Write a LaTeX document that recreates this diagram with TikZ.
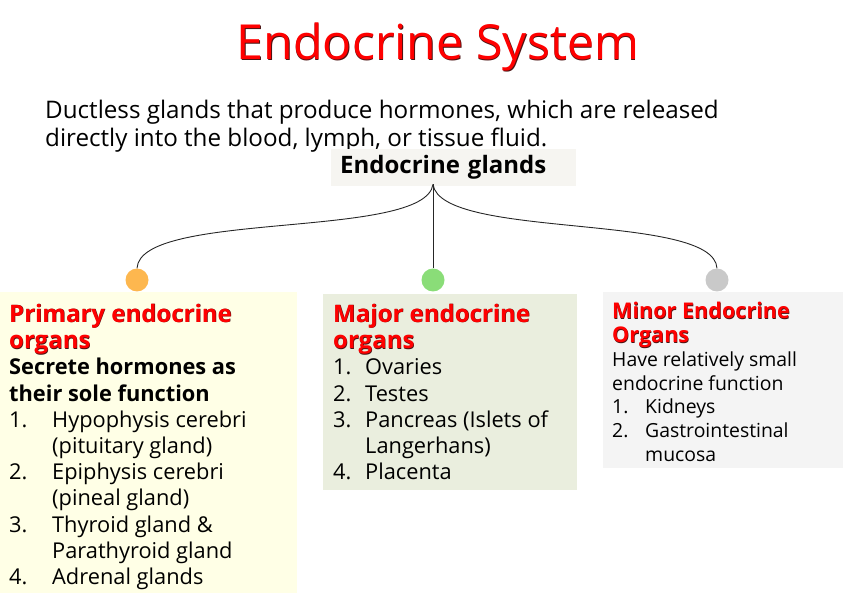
\documentclass[tikz,border=0pt]{standalone}
\usepackage{fontspec}
\setmainfont{Open Sans}
\usetikzlibrary{calc,positioning}
\definecolor{headred}{HTML}{FF0000}
\definecolor{shade}{HTML}{4A1414}
\definecolor{yellowpanel}{HTML}{FFFFE6}
\definecolor{greenpanel}{HTML}{EAEEDE}
\definecolor{greypanel}{HTML}{F4F4F4}
\definecolor{labelpanel}{HTML}{F6F5F1}
\definecolor{orangedot}{HTML}{FDB74F}
\definecolor{greendot}{HTML}{8ADD78}
\definecolor{greydot}{HTML}{C9C9C9}
\newcommand{\redhead}[1]{\leavevmode\rlap{\kern0.5pt\raisebox{-0.5pt}{\textcolor{shade}{#1}}}\textcolor{headred}{#1}}
\newcommand{\itm}[2][43pt]{\makebox[#1][l]{#2}}
\newcommand{\bighead}[1]{{\fontsize{24}{26.2}\selectfont\bfseries\redhead{#1}}}
\tikzset{
  panel/.style={rectangle,fill=#1,draw=none,anchor=north west,inner sep=0pt},
  joint/.style={circle,fill=#1,draw=none,minimum size=23pt,inner sep=0pt},
  branch/.style={draw=black!85,line width=0.9pt},
  bodytext/.style={anchor=north west,inner sep=0pt,align=left,font=\fontsize{21.8}{26.2}\selectfont},
  smalltext/.style={anchor=north west,inner sep=0pt,align=left,font=\fontsize{19.4}{23.7}\selectfont}
}
\begin{document}
\begin{tikzpicture}[x=1pt,y=-1pt]
\useasboundingbox (0,0) rectangle (843,593);
% title and definition
\node[anchor=base,inner sep=0pt,font=\fontsize{48.3}{58}\selectfont] (title) at (438,60) {\redhead{Endocrine System}};
\node[anchor=north west,inner sep=0pt,align=left,font=\fontsize{24.2}{28}\selectfont] (definition) at (45,99.5)
  {Ductless glands that produce hormones, which are released\\directly into the blood, lymph, or tissue fluid.};
% root label
\node[panel=labelpanel,minimum width=245pt,minimum height=37pt,text width=227pt,inner xsep=9pt,align=left,
  font=\fontsize{24}{26}\selectfont\bfseries] (glands) at (331,149) {Endocrine glands};
\coordinate (fork) at ([xshift=102pt,yshift=2pt]glands.south west);
% panels
\node[panel=yellowpanel,minimum width=297pt,minimum height=305pt] (primary) at (0,292) {};
\node[panel=greenpanel,minimum width=254pt,minimum height=196pt] (major) at (323,294) {};
\node[panel=greypanel,minimum width=240pt,minimum height=176pt] (minor) at (603,292) {};
% joints
\node[joint=orangedot] (primarydot) at (137,280) {};
\node[joint=greendot] (majordot) at (433,280) {};
\node[joint=greydot] (minordot) at (717,280) {};
\draw[branch] (fork) .. controls (425,240) and (140,210) .. (primarydot.north);
\draw[branch] (fork) -- (majordot.north);
\draw[branch] (fork) .. controls (441,240) and (714,212) .. (minordot.north);
% panel texts
\node[bodytext] (primarytxt) at (9,304)
  {\bighead{Primary endocrine}\\
   \bighead{organs}\\
   \textbf{Secrete hormones as}\\
   \textbf{their sole function}\\
   \itm{1.}Hypophysis cerebri\\
   \itm{}(pituitary gland)\\
   \itm{2.}Epiphysis cerebri\\
   \itm{}(pineal gland)\\
   \itm{3.}Thyroid gland \&\\
   \itm{}Parathyroid gland\\
   \itm{4.}Adrenal glands};
\node[bodytext] (majortxt) at (333,304)
  {\bighead{Major endocrine}\\
   \bighead{organs}\\
   \itm[32pt]{1.}Ovaries\\
   \itm[32pt]{2.}Testes\\
   \itm[32pt]{3.}Pancreas (Islets of\\
   \itm[32pt]{}Langerhans)\\
   \itm[32pt]{4.}Placenta};
\node[smalltext] (minortxt) at (612,302.3)
  {{\fontsize{21.6}{23.7}\selectfont\bfseries\redhead{Minor Endocrine}}\\
   {\fontsize{21.6}{23.7}\selectfont\bfseries\redhead{Organs}}\\
   Have relatively small\\
   endocrine function\\
   \itm[33pt]{1.}Kidneys\\
   \itm[33pt]{2.}Gastrointestinal\\
   \itm[33pt]{}mucosa};
\end{tikzpicture}
\end{document}
